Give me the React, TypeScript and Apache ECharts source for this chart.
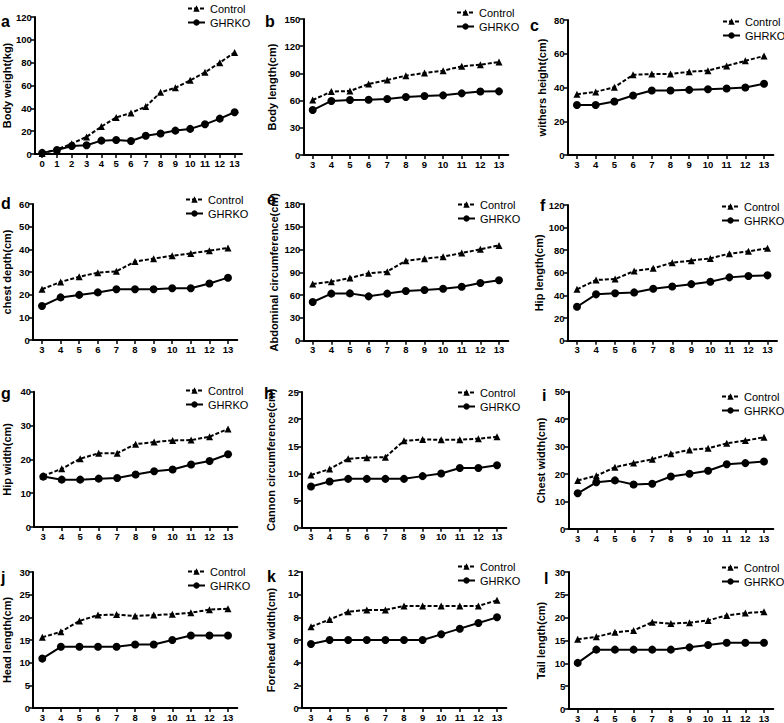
import React, { useEffect, useRef } from "react";
import * as echarts from "echarts";

// ---------- data ----------
const agesA = ["0", "1", "2", "3", "4", "5", "6", "7", "8", "9", "10", "11", "12", "13"];
const ages = ["3", "4", "5", "6", "7", "8", "9", "10", "11", "12", "13"];

const weightControl = [0.5, 4, 9, 15, 24, 32, 36, 41.5, 54, 58, 64.5, 71.5, 80, 89];
const weightGHRKO = [1, 3.5, 7, 7.6, 11.7, 12.3, 11.4, 16, 18, 20.5, 22, 26, 31, 36.6];

const bodyLengthControl = [60.7, 69.9, 70.6, 78.3, 82.7, 87.5, 90.4, 93, 97.8, 99.6, 102.6];
const bodyLengthGHRKO = [49.6, 59.6, 60.7, 61, 61.8, 64, 65, 65.8, 68, 70, 70.2];

const withersControl = [36, 37.4, 40.2, 47.5, 48, 48, 49.3, 50, 52.8, 55.8, 58.7];
const withersGHRKO = [29.6, 29.6, 31.7, 35.3, 38.2, 38.2, 38.6, 39, 39.4, 40, 42.2];

const chestDepthControl = [22.4, 25.6, 27.9, 29.7, 30.3, 34.6, 35.9, 37.2, 38.2, 39.4, 40.6];
const chestDepthGHRKO = [15, 18.8, 19.9, 21, 22.4, 22.4, 22.4, 22.8, 22.8, 24.9, 27.5];

const abdominalControl = [74.6, 77.7, 82.5, 88.7, 90.9, 105.4, 108, 110.6, 115.5, 120.3, 125.5];
const abdominalGHRKO = [51, 62, 62.3, 58.4, 62, 65.4, 66.7, 68.5, 71, 76, 79.5];

const hipLengthControl = [45.4, 53.7, 54.5, 61.6, 64, 69, 70.8, 72.8, 77, 79, 81.7];
const hipLengthGHRKO = [30, 41, 41.9, 42.7, 46, 48, 50, 52.2, 56, 57.2, 57.8];

const hipWidthControl = [15.1, 17.2, 20.2, 21.8, 21.8, 24.5, 25.1, 25.6, 25.7, 26.7, 29];
const hipWidthGHRKO = [14.9, 14, 14, 14.3, 14.5, 15.5, 16.5, 17, 18.5, 19.5, 21.5];

const cannonControl = [9.7, 10.8, 12.7, 12.9, 13, 16, 16.25, 16.2, 16.2, 16.4, 16.75];
const cannonGHRKO = [7.6, 8.5, 9, 9, 9, 9, 9.5, 10, 11, 11, 11.5];

const chestWidthControl = [17.7, 19.4, 22.5, 24, 25.4, 27.4, 28.8, 29.4, 31.2, 32.2, 33.4];
const chestWidthGHRKO = [13, 17, 17.7, 16.2, 16.5, 19.1, 20.1, 21.2, 23.6, 24, 24.6];

const headLengthControl = [15.6, 16.8, 19.2, 20.5, 20.6, 20.3, 20.5, 20.7, 21, 21.7, 21.9];
const headLengthGHRKO = [10.9, 13.5, 13.5, 13.5, 13.5, 14, 14, 15, 16, 16, 16];

const foreheadControl = [7.17, 7.8, 8.5, 8.65, 8.65, 9, 9, 9, 9, 9, 9.5];
const foreheadGHRKO = [5.65, 6, 6, 6, 6, 6, 6, 6.5, 7, 7.5, 8];

const tailControl = [15.3, 15.8, 16.8, 17.2, 19, 18.7, 18.9, 19.4, 20.5, 21, 21.3];
const tailGHRKO = [10.1, 13, 13, 13, 13, 13, 13.5, 14, 14.5, 14.5, 14.5];

const panelLetters = ["a", "b", "c", "d", "e", "f", "g", "h", "i", "j", "k", "l"];
const axisTitles = [
  "Body weight(kg)",
  "Body length(cm)",
  "withers height(cm)",
  "chest depth(cm)",
  "Abdominal circumference(cm)",
  "Hip length(cm)",
  "Hip width(cm)",
  "Cannon circumference(cm)",
  "Chest width(cm)",
  "Head length(cm)",
  "Forehead width(cm)",
  "Tail length(cm)",
];
const yMaxes = [120, 150, 80, 60, 180, 120, 40, 25, 50, 30, 12, 30];
const yIntervals = [20, 30, 20, 10, 30, 20, 10, 5, 10, 5, 2, 5];
const categoriesPerPanel = [agesA, ages, ages, ages, ages, ages, ages, ages, ages, ages, ages, ages];
const controlSeries = [
  weightControl, bodyLengthControl, withersControl, chestDepthControl, abdominalControl, hipLengthControl,
  hipWidthControl, cannonControl, chestWidthControl, headLengthControl, foreheadControl, tailControl,
];
const ghrkoSeries = [
  weightGHRKO, bodyLengthGHRKO, withersGHRKO, chestDepthGHRKO, abdominalGHRKO, hipLengthGHRKO,
  hipWidthGHRKO, cannonGHRKO, chestWidthGHRKO, headLengthGHRKO, foreheadGHRKO, tailGHRKO,
];

// ---------- layout ----------
// [axisLeft, axisTop, axisRight, axisBottom, nameGap, legendLeft, legendTop, letterX, letterBaseline]
const layout: number[][] = [
  [32, 17, 242, 154, 20, 187, 3, 1, 13],
  [303.4, 19, 508.3, 155, 26, 456, 7, 265, 13],
  [567.6, 20, 773.4, 155, 20, 722, 16, 530, 17],
  [32.7, 204, 237.3, 340, 20, 185, 194, 1, 195],
  [303.4, 204, 508.3, 340.7, 24, 457, 199, 267, 191],
  [567.5, 205, 777, 340.7, 21, 721, 201, 540, 197],
  [33.5, 391.7, 237.3, 527, 22, 185, 385, 1, 385],
  [301.7, 392, 506.3, 527.7, 25, 457, 387, 264, 385],
  [568.4, 391.7, 773.3, 529, 22, 721, 391, 542, 387],
  [32.7, 572, 237.3, 708, 21, 187, 566, 1, 569],
  [301.7, 572, 506.3, 708, 25, 457, 561, 267, 568],
  [568.4, 572, 773.3, 709, 22, 721, 562, 544, 570],
];

const FONT = "Arial, 'Liberation Sans', Helvetica, sans-serif";

function buildOption() {
  const grid: any[] = [];
  const xAxis: any[] = [];
  const yAxis: any[] = [];
  const series: any[] = [];
  const legend: any[] = [];
  const graphic: any[] = [];

  for (let i = 0; i < 12; i++) {
    const [L, T, R, B, gap, lgL, lgT, ltX, ltY] = layout[i];
    grid.push({ left: L, top: T, width: R - L, height: B - T, containLabel: false });
    xAxis.push({
      type: "category",
      gridIndex: i,
      data: categoriesPerPanel[i],
      boundaryGap: true,
      axisLine: { show: true, lineStyle: { color: "#000", width: 2 } },
      axisTick: { show: true, alignWithLabel: true, length: 4, lineStyle: { color: "#000", width: 1.5 } },
      axisLabel: {
        interval: 0,
        margin: 4,
        color: "#000",
        fontSize: 9.5,
        fontWeight: "bold",
        fontFamily: FONT,
      },
      splitLine: { show: false },
    });
    yAxis.push({
      type: "value",
      gridIndex: i,
      min: 0,
      max: yMaxes[i],
      interval: yIntervals[i],
      name: axisTitles[i],
      nameLocation: "middle",
      nameGap: gap,
      nameRotate: 90,
      nameTextStyle: { color: "#000", fontSize: 11, fontWeight: "bold", fontFamily: FONT },
      axisLine: { show: true, lineStyle: { color: "#000", width: 2 } },
      axisTick: { show: true, length: 4, lineStyle: { color: "#000", width: 1.5 } },
      axisLabel: {
        margin: 3,
        color: "#000",
        fontSize: 9.5,
        fontWeight: "bold",
        fontFamily: FONT,
      },
      splitLine: { show: false },
    });
    series.push({
      name: "Control",
      type: "line",
      xAxisIndex: i,
      yAxisIndex: i,
      data: controlSeries[i],
      symbol: "triangle",
      symbolSize: 7,
      lineStyle: { color: "#000", width: 2, type: [4, 2] },
      itemStyle: { color: "#000" },
      z: 3,
    });
    series.push({
      name: "GHRKO",
      type: "line",
      xAxisIndex: i,
      yAxisIndex: i,
      data: ghrkoSeries[i],
      symbol: "circle",
      symbolSize: 8,
      lineStyle: { color: "#000", width: 2, type: "solid" },
      itemStyle: { color: "#000" },
      z: 3,
    });
    legend.push({
      orient: "vertical",
      left: lgL,
      top: lgT,
      itemWidth: 17,
      itemHeight: 8,
      itemGap: 3,
      padding: 0,
      selectedMode: false,
      data: ["Control", "GHRKO"],
      textStyle: { color: "#000", fontSize: 11, fontFamily: FONT },
    });
    graphic.push({
      type: "text",
      x: ltX,
      y: ltY,
      style: {
        text: panelLetters[i],
        fill: "#000",
        fontSize: 16,
        fontWeight: "bold",
        fontFamily: FONT,
        verticalAlign: "alphabetic",
        textVerticalAlign: "alphabetic",
      },
    });
  }

  return {
    animation: false,
    backgroundColor: "#fff",
    grid,
    xAxis,
    yAxis,
    series,
    legend,
    graphic,
  };
}

export default function App() {
  const ref = useRef<HTMLDivElement>(null);
  useEffect(() => {
    document.body.style.margin = "0";
    if (!ref.current) return;
    const chart = echarts.init(ref.current, undefined, { renderer: "svg" });
    chart.setOption(buildOption() as any);
    return () => chart.dispose();
  }, []);
  return <div ref={ref} style={{ width: 784, height: 723 }} />;
}
